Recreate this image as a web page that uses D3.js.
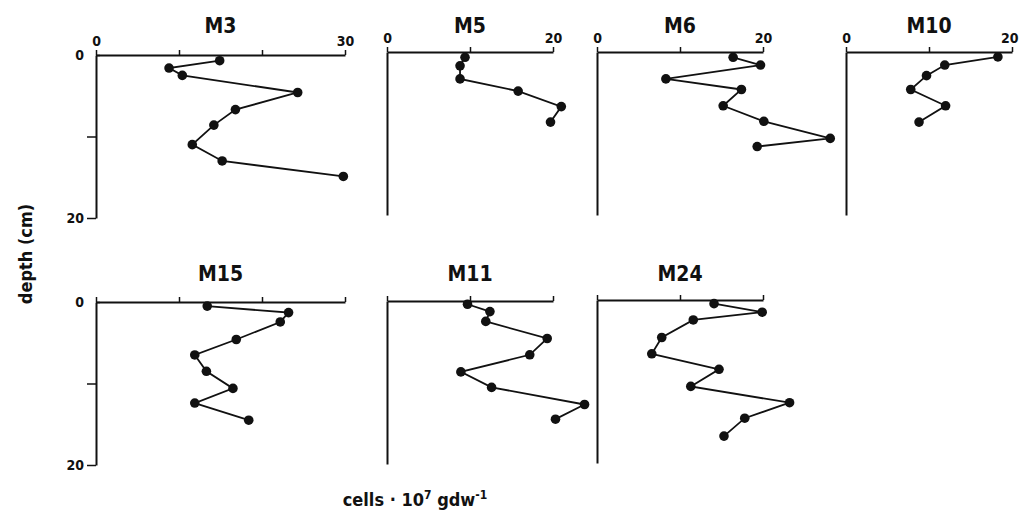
<!DOCTYPE html>
<html>
<head>
<meta charset="utf-8">
<script src="https://cdn.jsdelivr.net/npm/d3@7"></script>
<style>
	body { margin: 0; background: #fff; }
	svg { display: block; }
	text { font-family: "DejaVu Sans Condensed", "DejaVu Sans", sans-serif; font-weight: bold; fill: #111; }
</style>
</head>
<body>
<div id="chart"></div>
<script>
(function(){
	var width = 1020;
	var height = 512;
	var font = '"DejaVu Sans Condensed", "DejaVu Sans", sans-serif';

	// stations, in drawing order
	var titles = ["M3", "M5", "M6", "M10", "M15", "M11", "M24"];
	var xMax = [30, 20, 20, 20, 30, 20, 20];

	// cells (x10^7 per gdw) against depth (cm)
	var cellsM3 = [14.9, 8.8, 10.4, 24.3, 16.8, 14.2, 11.6, 15.2, 29.8];
	var depthM3 = [0.7, 1.6, 2.5, 4.6, 6.7, 8.6, 11.0, 13.0, 14.9];
	var cellsM5 = [9.4, 8.8, 8.8, 15.8, 21.0, 19.7];
	var depthM5 = [0.65, 1.7, 3.3, 4.8, 6.7, 8.6];
	var cellsM6 = [16.4, 19.7, 8.3, 17.4, 15.2, 20.1, 28.1, 19.3];
	var depthM6 = [0.65, 1.6, 3.3, 4.6, 6.6, 8.5, 10.6, 11.6];
	var cellsM10 = [18.3, 11.9, 9.7, 7.8, 12.0, 8.8];
	var depthM10 = [0.6, 1.6, 2.9, 4.6, 6.6, 8.6];
	var cellsM15 = [13.4, 23.2, 22.2, 16.9, 11.9, 13.3, 16.5, 11.9, 18.4];
	var depthM15 = [0.5, 1.3, 2.45, 4.6, 6.5, 8.5, 10.6, 12.4, 14.5];
	var cellsM11 = [9.7, 12.4, 11.9, 19.3, 17.2, 8.9, 12.6, 23.8, 20.3];
	var depthM11 = [0.4, 1.3, 2.5, 4.6, 6.6, 8.7, 10.6, 12.7, 14.5];
	var cellsM24 = [14.1, 19.9, 11.6, 7.8, 6.6, 14.7, 11.3, 23.2, 17.8, 15.3];
	var depthM24 = [0.45, 1.5, 2.45, 4.6, 6.6, 8.5, 10.6, 12.6, 14.5, 16.7];

	var cells = [cellsM3, cellsM5, cellsM6, cellsM10, cellsM15, cellsM11, cellsM24];
	var depths = [depthM3, depthM5, depthM6, depthM10, depthM15, depthM11, depthM24];

	var depthTicks = [0, 10, 20];
	var depthLabels = ["0", "20"];

	// panel origins (top-left corner of each plot, at 0/0)
	var origins = [[96,55],[387,52],[597,52],[846,52],[96,302],[387,301],[597,300]];
	var titleBase = [33, 281];
	var unit = 8.3;      // px per 1 unit of cells
	var depthLen = 163;  // px for 20 cm

	var svg = d3.select('#chart').append('svg')
		.attr('width', width)
		.attr('height', height);

	var y = d3.scaleLinear().domain([0, 20]).range([0, depthLen]);

	titles.forEach(function(name, i){
		var g = svg.append('g')
			.attr('transform', 'translate(' + origins[i][0] + ',' + origins[i][1] + ')');
		var x = d3.scaleLinear().domain([0, xMax[i]]).range([0, xMax[i] * unit]);
		var topRow = i < 4;
		var leftCol = (i === 0 || i === 4);

		// top axis, ticks point up
		var xa = d3.axisTop(x)
			.tickValues(d3.range(0, xMax[i] + 1, 10))
			.tickSize(5)
			.tickSizeOuter(0)
			.tickPadding(4)
			.tickFormat(function(d){
				if(!topRow) return "";
				return (d === 0 || d === xMax[i]) ? d : "";
			});
		var gx = g.append('g').call(xa);
		gx.select('.domain').attr('stroke', '#111').attr('stroke-width', 2);
		gx.selectAll('.tick line').attr('stroke', '#111').attr('stroke-width', 1.5);
		gx.selectAll('.tick text')
			.attr('font-size', 14)
			.attr('font-family', font)
			.attr('font-weight', 'bold')
			.attr('fill', '#111');
		// keep the right-most label of the last panel inside the page
		if(origins[i][0] + x(xMax[i]) + 9 > width){
			gx.selectAll('.tick text')
				.filter(function(d){ return d === xMax[i]; })
				.attr('text-anchor', 'end')
				.attr('x', width - 2 - origins[i][0] - x(xMax[i]));
		}

		// left axis
		var ya = d3.axisLeft(y)
			.tickValues(leftCol ? depthTicks : [])
			.tickSize(9)
			.tickSizeOuter(0)
			.tickPadding(3)
			.tickFormat(function(d){
				return depthLabels.indexOf(String(d)) >= 0 ? d : "";
			});
		var gy = g.append('g').call(ya);
		gy.select('.domain').attr('stroke', '#111').attr('stroke-width', 2);
		gy.selectAll('.tick line').attr('stroke', '#111').attr('stroke-width', 1.5);
		gy.selectAll('.tick text')
			.attr('font-size', 14)
			.attr('font-family', font)
			.attr('font-weight', 'bold')
			.attr('fill', '#111');
		if(leftCol){
			// the zero tick crosses the axis
			gy.select('.tick line').attr('x2', 4);
		}

		// title
		g.append('text')
			.attr('x', x(xMax[i]) / 2)
			.attr('y', titleBase[topRow ? 0 : 1] - origins[i][1])
			.attr('text-anchor', 'middle')
			.attr('font-size', 21)
			.text(name);

		var pts = cells[i].map(function(c, k){ return [c, depths[i][k]]; });

		var line = d3.line()
			.x(function(d){ return x(d[0]); })
			.y(function(d){ return y(d[1]); });

		g.append('path')
			.datum(pts)
			.attr('d', line)
			.attr('fill', 'none')
			.attr('stroke', '#111')
			.attr('stroke-width', 1.8);

		g.selectAll('circle')
			.data(pts)
			.enter()
			.append('circle')
			.attr('cx', function(d){ return x(d[0]); })
			.attr('cy', function(d){ return y(d[1]); })
			.attr('r', 4.8)
			.attr('fill', '#111');
	});

	svg.append('text')
		.attr('transform', 'translate(32,254) rotate(-90)')
		.attr('text-anchor', 'middle')
		.attr('font-size', 18)
		.text('depth (cm)');

	var xl = svg.append('text')
		.attr('x', 415)
		.attr('y', 506)
		.attr('text-anchor', 'middle')
		.attr('font-size', 18);
	xl.append('tspan').text('cells \u00b7 10');
	xl.append('tspan').attr('dy', -7).attr('font-size', 12).text('7');
	xl.append('tspan').attr('dy', 7).text(' gdw');
	xl.append('tspan').attr('dy', -7).attr('font-size', 12).text('-1');
})();
</script>
</body>
</html>
